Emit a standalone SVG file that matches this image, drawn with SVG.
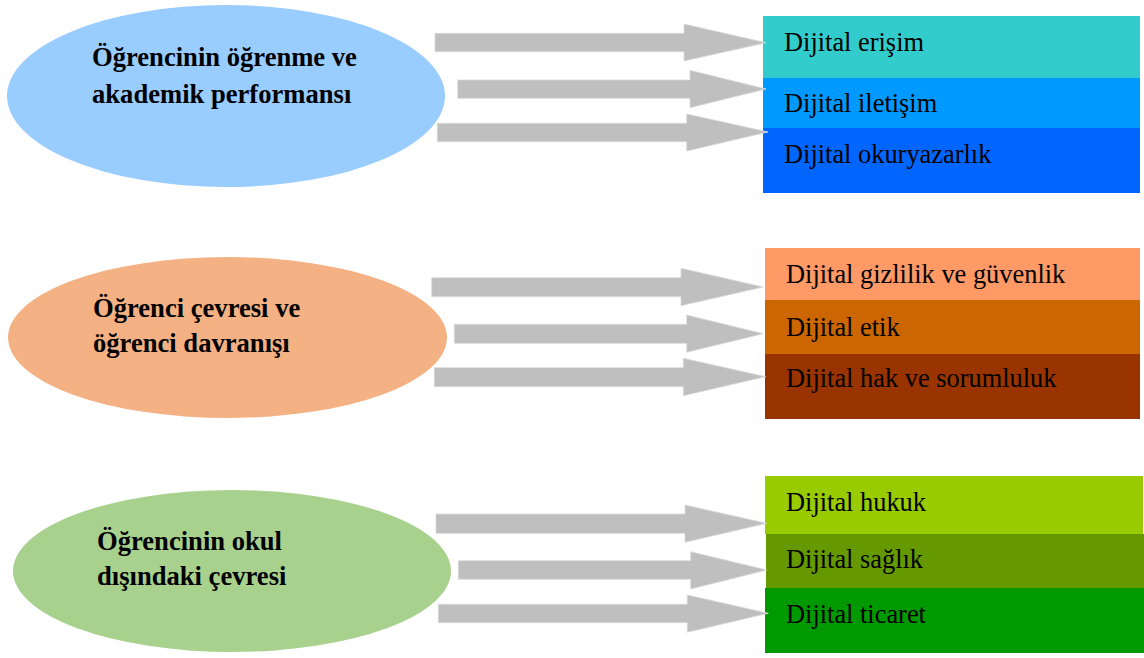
<svg xmlns="http://www.w3.org/2000/svg" width="1144" height="658" viewBox="0 0 1144 658">
<style>
.bg{fill:#ffffff}
.arrow{fill:#BFBFBF;stroke:#D9D9D9;stroke-width:0.8}
.lbl{font-family:"Liberation Serif","Times New Roman",serif;font-size:26.4px;fill:#000}
.ell{font-family:"Liberation Serif","Times New Roman",serif;font-size:26.6px;font-weight:bold;fill:#000}
</style>
<rect class="bg" x="0" y="0" width="1144" height="658"/>

<g id="ellipse1"><ellipse cx="226" cy="96" rx="219" ry="91" fill="#99CCFF"/>
<text class="ell" x="92" y="66">Öğrencinin öğrenme ve</text>
<text class="ell" x="92" y="103">akademik performansı</text></g>

<g id="ellipse2"><ellipse cx="227.5" cy="337.5" rx="219.5" ry="80.5" fill="#F4B183"/>
<text class="ell" x="93" y="317">Öğrenci çevresi ve</text>
<text class="ell" x="93" y="352">öğrenci davranışı</text></g>

<g id="ellipse3"><ellipse cx="232" cy="571" rx="219" ry="81" fill="#A9D18E"/>
<text class="ell" x="97" y="550">Öğrencinin okul</text>
<text class="ell" x="97" y="585">dışındaki çevresi</text></g>

<g id="group1-boxes">
<g id="box-erisim"><rect x="763" y="16" width="377" height="62" fill="#33CCCC"/><text class="lbl" x="784" y="51">Dijital erişim</text></g>
<g id="box-iletisim"><rect x="763" y="78" width="377" height="50" fill="#0099FF"/><text class="lbl" x="784" y="112">Dijital iletişim</text></g>
<g id="box-okuryazarlik"><rect x="763" y="128" width="377" height="65" fill="#0066FF"/><text class="lbl" x="784" y="163">Dijital okuryazarlık</text></g>
</g>

<g id="group2-boxes">
<g id="box-gizlilik"><rect x="765" y="248" width="375" height="52" fill="#FF9966"/><text class="lbl" x="786" y="283">Dijital gizlilik ve güvenlik</text></g>
<g id="box-etik"><rect x="765" y="300" width="375" height="54" fill="#CC6600"/><text class="lbl" x="786" y="336">Dijital etik</text></g>
<g id="box-hak"><rect x="765" y="354" width="375" height="65" fill="#993300"/><text class="lbl" x="786" y="387">Dijital hak ve sorumluluk</text></g>
</g>

<g id="group3-boxes">
<g id="box-hukuk"><rect x="765" y="476" width="378" height="58" fill="#99CC00"/><text class="lbl" x="786" y="511">Dijital hukuk</text></g>
<g id="box-saglik"><rect x="766" y="534" width="378" height="54" fill="#669900"/><text class="lbl" x="786" y="568">Dijital sağlık</text></g>
<g id="box-ticaret"><rect x="765" y="588" width="379" height="65" fill="#009900"/><text class="lbl" x="786" y="623">Dijital ticaret</text></g>
</g>

<g id="connectors">
<polygon class="arrow" points="435,33.3 684,33.3 684,24 766,42.7 684,61 684,51.7 435,51.7"/>
<polygon class="arrow" points="457.7,80 690,80 690,70.3 766,89 690,107.7 690,98.3 457.7,98.3"/>
<polygon class="arrow" points="437.3,123.3 686.7,123.3 686.7,114 768,132 686.7,151 686.7,141.7 437.3,141.7"/>

<polygon class="arrow" points="431.7,277.7 681,277.7 681,268.3 763.3,287 681,305.7 681,296.7 431.7,296.7"/>
<polygon class="arrow" points="454.3,324.3 686.7,324.3 686.7,315 763.3,333.7 686.7,352.3 686.7,343.3 454.3,343.3"/>
<polygon class="arrow" points="434.3,367.7 683.3,367.7 683.3,358.3 765.7,376.7 683.3,395.7 683.3,386.7 434.3,386.7"/>

<polygon class="arrow" points="436,514 685,514 685,505 766.7,523.3 685,542.3 685,533.3 436,533.3"/>
<polygon class="arrow" points="458.3,560.7 690.7,560.7 690.7,551.7 766.7,570 690.7,589 690.7,579.3 458.3,579.3"/>
<polygon class="arrow" points="438.3,604.3 687.3,604.3 687.3,595 768.3,613.3 687.3,632.3 687.3,622.7 438.3,622.7"/>
</g>
</svg>
